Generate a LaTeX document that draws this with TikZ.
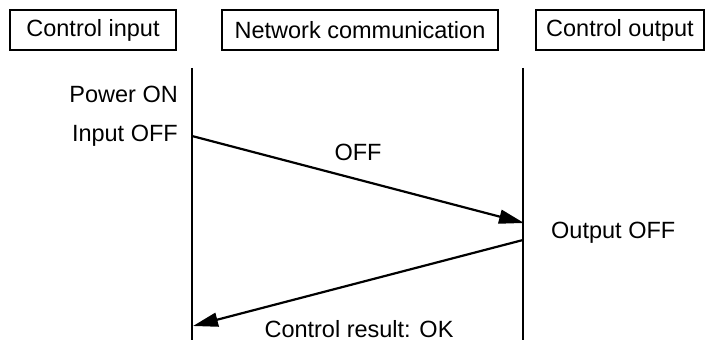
\documentclass[tikz,border=0pt]{standalone}
\usepackage{fontspec}
\setmainfont{Liberation Sans}
\usetikzlibrary{arrows.meta}
\begin{document}
\begin{tikzpicture}[x=1pt,y=-1pt,
  hdr/.style={draw,line width=1.2pt,minimum height=40pt,inner sep=0pt,font=\fontsize{23.5}{26}\selectfont},
  lbl/.style={font=\fontsize{23.5}{26}\selectfont,inner sep=0pt},
  life/.style={line width=2.2pt},
  msg/.style={line width=2.2pt,-{Triangle[length=25pt,width=14pt]}}]
\useasboundingbox (0,0) rectangle (715,347);
\node[hdr,minimum width=166pt] (hin) at (93,30) {Control input};
\node[hdr,minimum width=276pt] (hnet) at (360,30) {Network communication};
\node[hdr,minimum width=168pt] (hout) at (620,30) {Control output};
\coordinate (lt) at (192,68);
\coordinate (lb) at (192,340);
\coordinate (rt) at (523,68);
\coordinate (rb) at (523,340);
\draw[life] (lt) -- (lb);
\draw[life] (rt) -- (rb);
\node[lbl,anchor=east] (pon) at (178,94) {Power ON};
\node[lbl,anchor=east] (ioff) at (178,136) {Input OFF};
\node[lbl,anchor=west] (ooff) at (551,233) {Output OFF};
\coordinate (a1s) at (192,136);
\coordinate (a1e) at (524,223);
\coordinate (a2s) at (523,240);
\coordinate (a2e) at (193,326);
\draw[msg] (a1s) -- (a1e);
\draw[msg] (a2s) -- (a2e);
\node[lbl] (loff) at (358,152) {OFF};
\node[lbl] (lres) at (359,329) {Control result: OK};
\end{tikzpicture}
\end{document}
